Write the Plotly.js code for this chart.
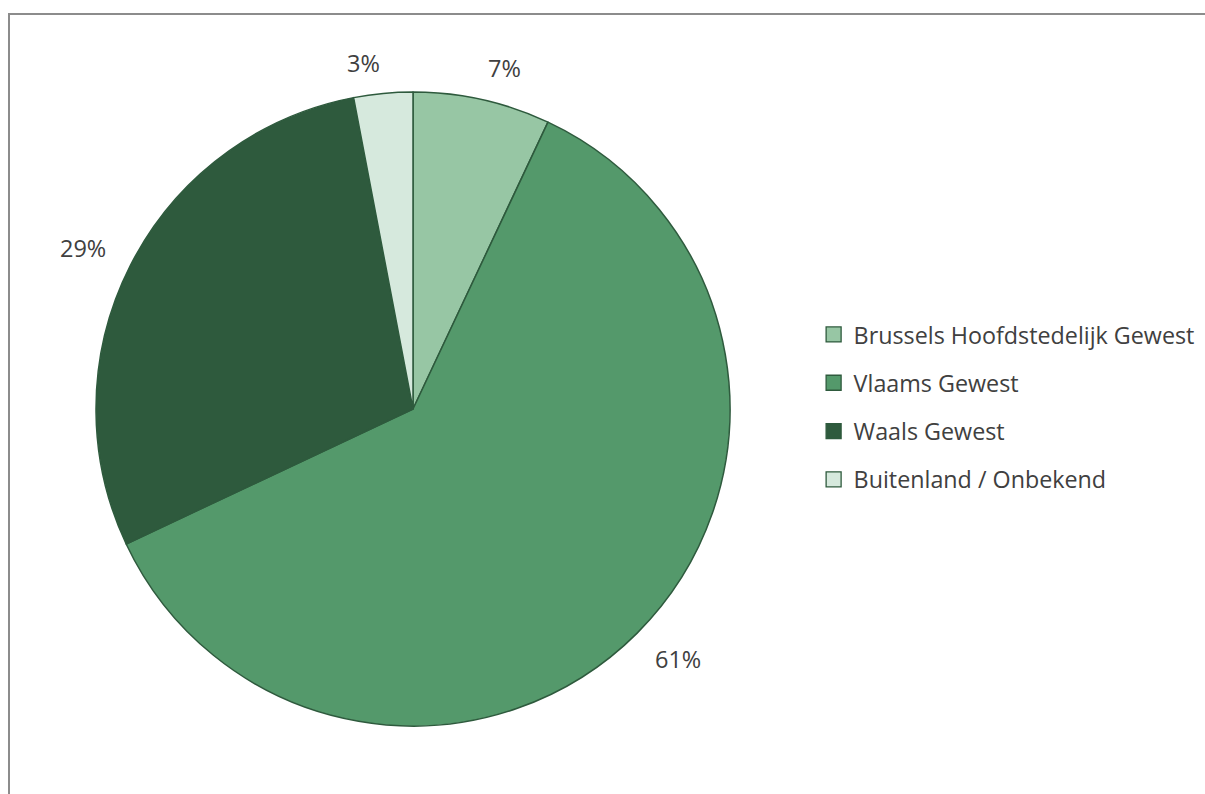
<!DOCTYPE html>
<html>
<head>
<meta charset="utf-8">
<script src="https://cdn.plot.ly/plotly-3.0.1.min.js"></script>
<style>
html,body{margin:0;padding:0;background:#fff;}
#frame{position:absolute;left:8px;top:13px;width:1197px;height:781px;border-left:2px solid #8c8c8c;border-top:2px solid #8c8c8c;box-sizing:border-box;}
#chart{position:absolute;left:0;top:0;width:1205px;height:794px;}
</style>
</head>
<body>
<div id="frame"></div>
<div id="chart"></div>
<script>
const categories = ['Brussels Hoofdstedelijk Gewest', 'Vlaams Gewest', 'Waals Gewest', 'Buitenland / Onbekend'];
const values = [7, 61, 29, 3];
const sliceColors = ['#97c6a4', '#54996b', '#2e5a3d', '#d6e9dd'];

const W = 1205, H = 794;
const cx = 413, cy = 409, R = 317;
const fontFam = '"Open Sans", Carlito, Calibri, sans-serif';
const labelSize = 23.5;
const legendSize = 23.3;
const labelBoxH = 24;
const textColor = '#404040';
const edgeColor = '#2e5a3d';

// label annotations from data (clockwise from top), placed just outside the slice's mid-angle
const total = values.reduce((a, b) => a + b, 0);
let cum = 0;
const annotations = values.map((v, i) => {
  const mid = (cum + v / 2) / total * 2 * Math.PI;
  cum += v;
  const txt = Math.round(v / total * 100) + '%';
  const s = Math.sin(mid), c = Math.cos(mid);
  const gap = 18 + 9 * Math.abs(s);
  const px = cx + (R + gap) * s;
  const py = cy - (R + gap) * c - c * labelBoxH / 2;
  return {
    x: px / W, y: 1 - py / H, xref: 'paper', yref: 'paper',
    text: txt, showarrow: false,
    font: {family: fontFam, size: labelSize, color: textColor},
    xanchor: s >= 0 ? 'left' : 'right',
    yanchor: 'middle',
    borderpad: 0
  };
});

const pieTrace = {
  type: 'pie',
  labels: categories,
  values: values,
  sort: false,
  direction: 'clockwise',
  rotation: 0,
  textinfo: 'none',
  showlegend: false,
  marker: {colors: sliceColors, line: {color: edgeColor, width: 1.5}},
  domain: {x: [(cx - R) / W, (cx + R) / W], y: [1 - (cy + R) / H, 1 - (cy - R) / H]}
};

// legend entries (one per category), drawn as legend-only markers
const legendTraces = categories.map((name, i) => ({
  type: 'scatter', mode: 'markers', x: [null], y: [null],
  name: name, legendgroup: 'g' + i,
  marker: {symbol: 'square', size: 15, color: sliceColors[i], line: {color: edgeColor, width: 1.3}},
  hoverinfo: 'skip'
}));

const layout = {
  width: W, height: H,
  margin: {l: 0, r: 0, t: 0, b: 0, autoexpand: false},
  paper_bgcolor: 'rgba(0,0,0,0)',
  plot_bgcolor: 'rgba(0,0,0,0)',
  xaxis: {visible: false}, yaxis: {visible: false},
  showlegend: true,
  legend: {
    x: 0.6752, y: 0.487, xanchor: 'left', yanchor: 'middle',
    font: {family: fontFam, size: legendSize, color: textColor},
    itemwidth: 30, tracegroupgap: 15, traceorder: 'grouped',
    bgcolor: 'rgba(0,0,0,0)'
  },
  annotations: annotations
};

Plotly.newPlot('chart', [pieTrace].concat(legendTraces), layout, {displayModeBar: false, staticPlot: true});
</script>
</body>
</html>
